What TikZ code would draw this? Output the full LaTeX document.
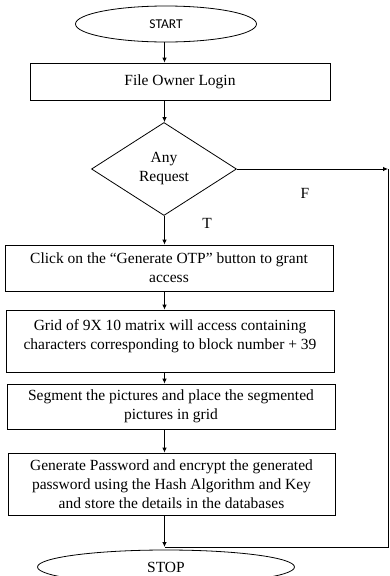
\documentclass[tikz,border=0pt]{standalone}
\usepackage{fontspec}
\setmainfont{Liberation Serif}
\newfontfamily\startfont{Carlito}
\usetikzlibrary{shapes.geometric,arrows.meta}
\begin{document}
\begin{tikzpicture}[x=1pt,y=-1pt,
  every node/.style={font=\fontsize{15.5}{19}\selectfont},
  term/.style={draw,ellipse,line width=0.8pt,inner sep=0pt},
  procbox/.style={draw,rectangle,line width=0.8pt,inner sep=0pt,align=center},
  dec/.style={draw,diamond,line width=0.8pt,inner sep=0pt,align=center},
  arr/.style={line width=0.8pt,-{Latex[length=5pt,width=4.5pt]}},
  ln/.style={line width=0.8pt}]
\useasboundingbox (0,0) rectangle (390,576);
\clip (0,0) rectangle (390,576);
\node[term,minimum width=181pt,minimum height=36pt,font=\startfont\fontsize{13.5}{15}\selectfont] (start) at (166,24) {START};
\node[procbox,minimum width=300pt,minimum height=37pt] (b1) at (180,81.5) {File Owner Login};
\node[dec,minimum width=145pt,minimum height=93pt] (d) at (164,169) {Any\\Request};
\node[procbox,minimum width=328pt,minimum height=46pt] (b2) at (169,268) {Click on the “Generate OTP” button to grant\\access};
\node[procbox,minimum width=328pt,minimum height=62pt] (b3) at (170,341) {\parbox[c][62pt][t]{326pt}{\centering\vspace*{10pt}Grid of 9X 10 matrix will access containing\\characters corresponding to block number + 39}};
\node[procbox,minimum width=328pt,minimum height=45pt] (b4) at (171,406.5) {Segment the pictures and place the segmented\\pictures in grid};
\node[procbox,minimum width=327pt,minimum height=62pt] (b5) at (171.5,484) {Generate Password and encrypt the generated\\password using the Hash Algorithm and Key\\and store the details in the databases};
\node[term,minimum width=257pt,minimum height=34pt] (stop) at (166,567) {STOP};
\node (tl) at (207,223) {T};
\node (fl) at (305,193) {F};
\coordinate (ax) at (164.5,0);
\coordinate (fr) at (388,169);
\coordinate (fb) at (388,547);
\coordinate (join) at (164.5,547);
\draw[arr] (start.south -| ax) -- (b1.north -| ax);
\draw[arr] (b1.south -| ax) -- (d.north -| ax);
\draw[arr] (d.south -| ax) -- (b2.north -| ax);
\draw[arr] (b2.south -| ax) -- (b3.north -| ax);
\draw[arr] (b3.south -| ax) -- (b4.north -| ax);
\draw[arr] (b4.south -| ax) -- (b5.north -| ax);
\draw[arr] (d.east) -- (fr);
\draw[ln] (fr) -- (fb) -- (join);
\draw[arr] (b5.south -| join) -- (join);
\end{tikzpicture}
\end{document}
